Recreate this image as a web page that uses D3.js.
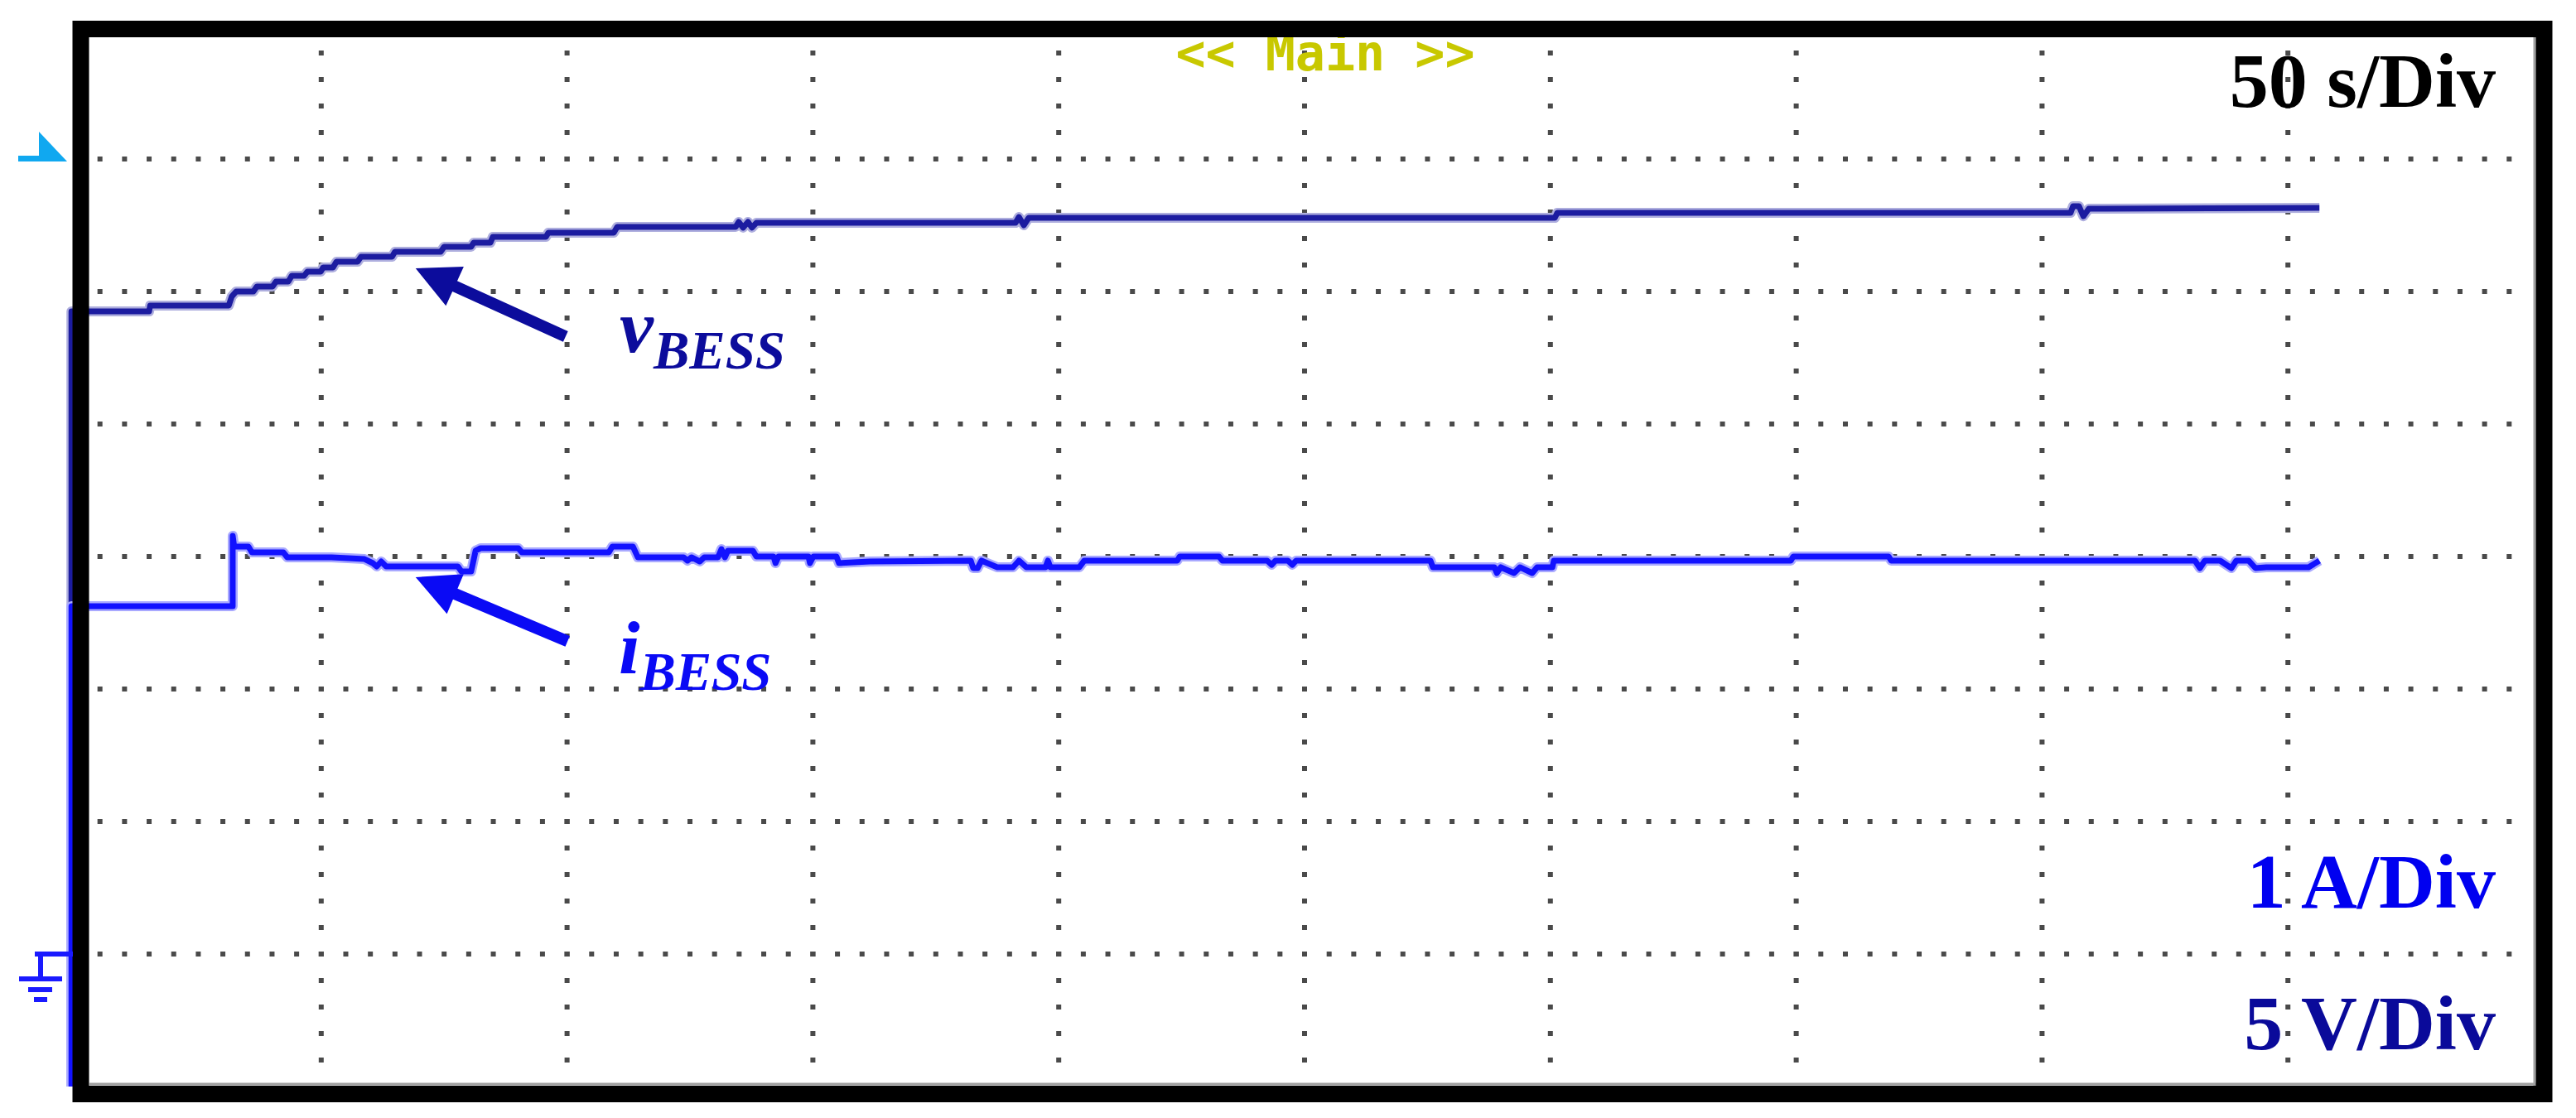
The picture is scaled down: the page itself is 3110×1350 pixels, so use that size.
<!DOCTYPE html>
<html><head><meta charset="utf-8">
<script src="https://cdn.jsdelivr.net/npm/d3@7"></script>
<style>body{margin:0;background:#fff}svg{display:block}</style>
</head><body>
<svg id="c" width="3110" height="1350"></svg>
<script>
// ---- data (time in s, voltage in V, current in A) ----
const timeDomain = [0, 500];      // 10 div x 50 s/Div
const voltDomain = [-5, 35];      // 8 div x 5 V/Div, ground on 7th line
const ampDomain  = [-1, 7];       // 8 div x 1 A/Div
const vBESS = [[-0.8,-5],[-0.8,24.25],[0,24.25],[15.0,24.25],[15.2,24.47],[31.2,24.47],[31.8,24.81],[32.7,25.0],
  [36.2,25.0],[36.9,25.19],[40.1,25.19],[40.8,25.375],[43.3,25.375],[44.0,25.59],[46.5,25.59],[47.2,25.75],
  [49.9,25.75],[50.4,25.91],[52.4,25.91],[53.1,26.125],[57.4,26.125],[58.1,26.31],[64.4,26.31],[65.0,26.5],
  [74.3,26.5],[75.0,26.69],[80.5,26.69],[81.0,26.84],[84.4,26.84],[84.9,27.06],[95.7,27.06],[96.2,27.22],
  [109.5,27.22],[110.2,27.44],[134.3,27.44],[134.9,27.625],[135.8,27.41],[136.8,27.625],[137.6,27.41],[138.5,27.59],
  [191.2,27.59],[191.9,27.81],[192.9,27.5],[193.9,27.78],[300.9,27.78],[301.4,27.97],[405.8,27.97],[406.3,28.22],
  [407.5,28.22],[408.4,27.84],[409.5,28.125],[456.4,28.16]];
const iBESS = [[-0.8,-1],[-0.8,2.625],[32.0,2.625],[32.0,3.156],[32.3,3.075],[35.2,3.075],[35.9,3.031],[42.3,3.031],
  [43.1,2.994],[52.1,2.994],[58.8,2.981],[60.5,2.95],[61.3,2.925],[62.2,2.9625],[63.2,2.925],[77.8,2.925],
  [78.5,2.8875],[80.5,2.8875],[81.4,3.044],[82.4,3.0625],[90.1,3.0625],[90.8,3.031],[108.5,3.031],[109.2,3.075],
  [113.4,3.075],[114.4,2.994],[123.7,2.994],[124.5,2.969],[125.3,2.994],[127.0,2.9625],[127.9,2.994],[130.7,2.994],
  [131.4,3.056],[132.1,2.994],[132.7,3.044],[137.8,3.044],[138.5,3.0],[142.0,3.0],[142.4,2.95],[143.0,3.0],
  [149.1,3.0],[149.4,2.95],[150.1,3.0],[154.8,3.0],[155.3,2.95],[161.6,2.9625],[182.1,2.969],[182.6,2.9125],
  [183.5,2.9125],[184.3,2.969],[187.5,2.919],[190.7,2.919],[191.9,2.969],[193.4,2.919],[197.3,2.919],[197.8,2.969],
  [198.3,2.919],[204.2,2.919],[205.2,2.969],[224.1,2.969],[224.6,3.0],[232.6,3.0],[233.3,2.969],[242.4,2.969],
  [243.3,2.9375],[244.1,2.969],[246.6,2.969],[247.5,2.9375],[248.3,2.969],[275.6,2.969],[276.1,2.919],[288.6,2.919],
  [289.1,2.875],[289.9,2.919],[292.6,2.875],[293.8,2.919],[296.3,2.875],[297.3,2.919],[300.4,2.919],[300.7,2.969],
  [348.9,2.969],[349.4,3.0],[368.8,3.0],[369.3,2.969],[431.1,2.969],[432.1,2.9125],[433.1,2.969],[436.2,2.969],
  [438.5,2.9125],[439.5,2.969],[442.0,2.969],[443.4,2.9125],[445.6,2.919],[454.2,2.919],[456.4,2.969]];
const scaleLabels = ["50 s/Div", "1 A/Div", "5 V/Div"];
const menuLabel = "<< Main >>";
// annotation anchors (data units): [tip t, tip value, tail t, tail value, label t, label value]
const vNote = [69.2, 25.875, 99.7, 23.3, 110.7, 22.72];
const iNote = [69.2, 2.844, 100.1, 2.36, 110.5, 2.119];

// ---- scales ----
const svg = d3.select("#c");
const x  = d3.scaleLinear().domain(timeDomain).range([91, 3059]);
const yV = d3.scaleLinear().domain(voltDomain).range([1312, 32]);
const yI = d3.scaleLinear().domain(ampDomain).range([1312, 32]);

const dark = "#1c1ca0", bright = "#1212ff";

// ---- dotted graticule ----
const grid = svg.append("g").attr("fill", "#4a4a4a");
const hLines = d3.range(0, 30.001, 5);            // horizontal division lines (V)
const hDots = d3.range(5, 499, 5);                 // 10 dots per division
hLines.forEach(v => {
  grid.selectAll(null).data(hDots).enter().append("rect")
    .attr("x", t => x(t) - 3).attr("y", yV(v) - 3).attr("width", 6).attr("height", 6);
});
const vLines = d3.range(50, 451, 50);
const vDots = d3.range(-4, 35, 1);                 // 5 dots per division
vLines.forEach(t => {
  grid.selectAll(null).data(vDots).enter().append("rect")
    .attr("x", x(t) - 3).attr("y", v => yV(v) - 3).attr("width", 6).attr("height", 6);
});

// ---- traces ----
function trace(data, ys, core, halo) {
  const line = d3.line().x(d => x(d[0])).y(d => ys(d[1]));
  svg.append("path").attr("d", line(data)).attr("fill", "none").attr("stroke", halo)
    .attr("stroke-width", 12).attr("stroke-linejoin", "round");
  svg.append("path").attr("d", line(data)).attr("fill", "none").attr("stroke", core)
    .attr("stroke-width", 7).attr("stroke-linejoin", "round");
}
trace(vBESS, yV, dark, "#aeaede");
trace(iBESS, yI, bright, "#a9a9ff");

// ---- annotations ----
function arrow(n, ys, color) {
  const tip = [x(n[0]), ys(n[1])], tail = [x(n[2]), ys(n[3])];
  const dx = tail[0] - tip[0], dy = tail[1] - tip[1], L = Math.hypot(dx, dy);
  const ux = dx / L, uy = dy / L, px = -uy, py = ux;
  const hl = 52, hw = 26, sw = 7;
  const bx = tip[0] + ux * hl, by = tip[1] + uy * hl;
  const pts = [tip, [bx + px * hw, by + py * hw], [bx + px * sw, by + py * sw],
    [tail[0] + px * sw, tail[1] + py * sw], [tail[0] - px * sw, tail[1] - py * sw],
    [bx - px * sw, by - py * sw], [bx - px * hw, by - py * hw]];
  svg.append("path").attr("d", "M" + pts.map(p => p.join(",")).join("L") + "Z").attr("fill", color);
}
arrow(vNote, yV, "#0c0c9c");
arrow(iNote, yI, "#0a0af5");

function label(n, ys, main, color) {
  const t = svg.append("text").attr("x", x(n[4])).attr("y", ys(n[5]))
    .attr("font-family", "'Liberation Serif','Times New Roman',serif").attr("font-weight", "bold")
    .attr("font-style", "italic").attr("fill", color);
  t.append("tspan").attr("font-size", 92).text(main);
  t.append("tspan").attr("font-size", 65).attr("dy", 20).text("BESS");
}
label(vNote, yV, "v", "#0c0c9c");
label(iNote, yI, "i", "#0a0af5");

svg.append("text").attr("x", 1600).attr("y", 85).attr("text-anchor", "middle")
  .attr("font-family", "'DejaVu Sans Mono',monospace").attr("font-size", 60).attr("font-weight", "bold")
  .attr("fill", "#c8c800").text(menuLabel);

const scaleText = [[scaleLabels[0], 129, "#000000"], [scaleLabels[1], 1096, "#0000f0"], [scaleLabels[2], 1267, "#0a0a9a"]];
scaleText.forEach(s => {
  svg.append("text").attr("x", 3013).attr("y", s[1]).attr("text-anchor", "end")
    .attr("font-family", "'Liberation Serif','Times New Roman',serif").attr("font-weight", "bold")
    .attr("font-size", 94).attr("fill", s[2]).text(s[0]);
});

// ---- frame ----
svg.append("line").attr("x1", 108).attr("x2", 3062).attr("y1", 1309).attr("y2", 1309).attr("stroke", "#a0a0a0").attr("stroke-width", 3);
svg.append("line").attr("x1", 3060).attr("x2", 3060).attr("y1", 44).attr("y2", 1311).attr("stroke", "#a0a0a0").attr("stroke-width", 3);
svg.append("rect").attr("x", 97.5).attr("y", 35).attr("width", 2974).attr("height", 1286)
  .attr("fill", "none").attr("stroke", "#000").attr("stroke-width", 20);

// trigger level marker (cyan) on first division line
svg.append("path").attr("d", "M22,188L47,188L47,159L81,195L22,195Z").attr("fill", "#10a8f0");
// ground marker
const gnd = svg.append("g").attr("stroke", "#1a1aff").attr("stroke-width", 6);
const gy = yV(0);
gnd.append("line").attr("x1", 42).attr("x2", 88).attr("y1", gy).attr("y2", gy);
gnd.append("line").attr("x1", 49).attr("x2", 49).attr("y1", gy).attr("y2", gy + 30);
gnd.append("line").attr("x1", 23).attr("x2", 75).attr("y1", gy + 30).attr("y2", gy + 30);
gnd.append("line").attr("x1", 34).attr("x2", 63).attr("y1", gy + 43).attr("y2", gy + 43);
gnd.append("line").attr("x1", 41).attr("x2", 57).attr("y1", gy + 55).attr("y2", gy + 55);
</script>
</body></html>
